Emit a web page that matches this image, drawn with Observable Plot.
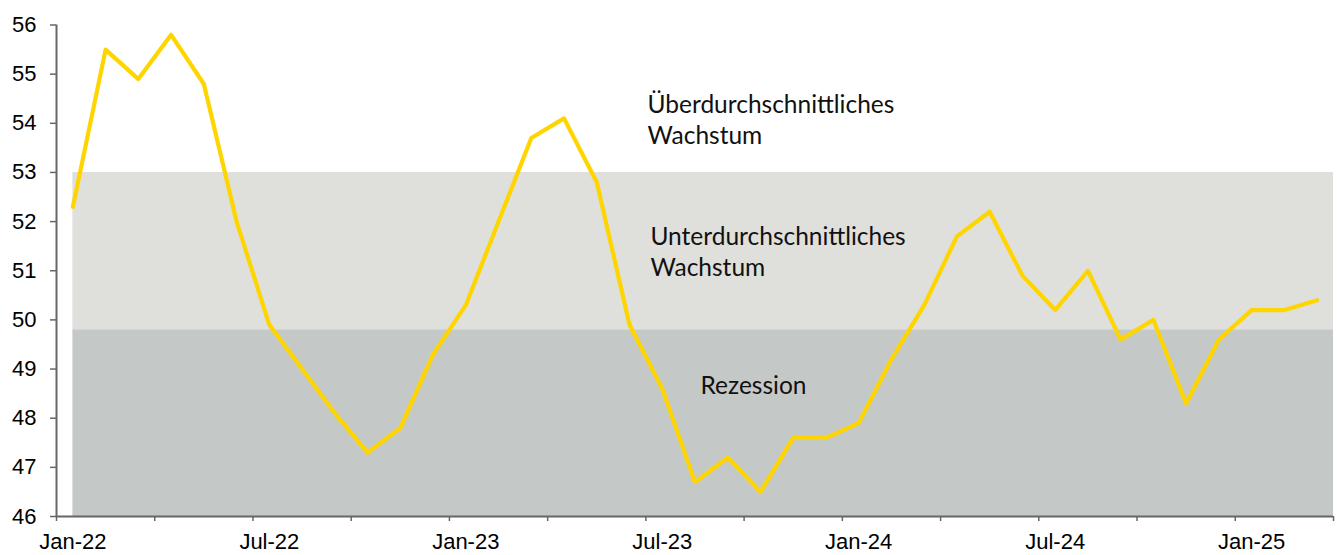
<!DOCTYPE html>
<html><head><meta charset="utf-8">
<script src="https://cdn.jsdelivr.net/npm/d3@7"></script>
<script src="https://cdn.jsdelivr.net/npm/@observablehq/plot@0.6"></script>
<style>html,body{margin:0;padding:0;background:#fff}</style>
</head><body><div id="chart"></div>
<script>
// Monthly index values, Jan-22 .. Mar-25 (plotted mid-month)
const months = ["Jan-22","Feb-22","Mar-22","Apr-22","May-22","Jun-22","Jul-22","Aug-22","Sep-22","Oct-22","Nov-22","Dec-22",
  "Jan-23","Feb-23","Mar-23","Apr-23","May-23","Jun-23","Jul-23","Aug-23","Sep-23","Oct-23","Nov-23","Dec-23",
  "Jan-24","Feb-24","Mar-24","Apr-24","May-24","Jun-24","Jul-24","Aug-24","Sep-24","Oct-24","Nov-24","Dec-24",
  "Jan-25","Feb-25","Mar-25"];
const values = [52.3,55.5,54.9,55.8,54.8,52.0,49.9,49.0,48.1,47.3,47.8,49.3,
  50.3,52.0,53.7,54.1,52.8,49.9,48.6,46.7,47.2,46.5,47.6,47.6,
  47.9,49.2,50.3,51.7,52.2,50.9,50.2,51.0,49.6,50.0,48.3,49.6,
  50.2,50.2,50.4];
const tickLabels = ["Jan-22","Jul-22","Jan-23","Jul-23","Jan-24","Jul-24","Jan-25"];
const yTicks = [46,47,48,49,50,51,52,53,54,55,56];
// Zones (lower/upper bounds)
const bandNames = ["Rezession","Unterdurchschnittliches Wachstum"];
const bandLow = [46, 49.8];
const bandHigh = [49.8, 53];
// Zone labels: text, month position, value of last-line baseline
const noteTexts = ["Überdurchschnittliches\nWachstum","Unterdurchschnittliches\nWachstum","Rezession"];
const noteMonth = [18.05, 18.14, 19.67];
const noteValue = [53.58, 50.89, 48.5];

const nMonths = months.length; // 39
const data = values.map((v, i) => ({month: months[i], x: i + 0.5, v}));
const bands = bandNames.map((n, i) => ({name: n, lo: bandLow[i], hi: bandHigh[i]}));
const notes = noteTexts.map((t, i) => ({t, m: noteMonth[i], v: noteValue[i]}));
const bandFill = {"Rezession": "#C4C9C7", "Unterdurchschnittliches Wachstum": "#DFE0DC"};
// label positions: centre of the labelled month
const labelPos = tickLabels.map((_, k) => k * 6 + 0.5);

const chart = Plot.plot({
  width: 1337, height: 555,
  marginLeft: 56, marginRight: 4, marginTop: 24.5, marginBottom: 39,
  x: {domain: [0, nMonths], label: null},
  y: {domain: [46, 56], label: null},
  style: {fontFamily: "'Liberation Sans', Arial, sans-serif", fontSize: "22px", color: "#000", background: "#fff"},
  marks: [
    Plot.rect(bands, {x1: () => data[0].x, x2: () => nMonths, y1: "lo", y2: "hi", fill: d => bandFill[d.name]}),
    Plot.axisY({ticks: yTicks, tickSize: 6, tickPadding: 14, stroke: "#666", strokeWidth: 1.5, tickFormat: d => String(d)}),
    Plot.axisX({ticks: d3.range(0, nMonths + 1, 3), tickSize: 5, stroke: "#666", strokeWidth: 1.5, tickFormat: () => ""}),
    Plot.axisX({ticks: labelPos, tickSize: 0, tickPadding: 17, tickFormat: (d, k) => tickLabels[Math.round((d - 0.5) / 6)]}),
    Plot.ruleX([0], {stroke: "#666", strokeWidth: 2}),
    Plot.ruleY([46], {stroke: "#666", strokeWidth: 2}),
    Plot.line(data, {x: "x", y: "v", stroke: "#FFD500", strokeWidth: 4.2, strokeLinejoin: "round", strokeLinecap: "round"}),
    Plot.text(notes, {x: "m", y: "v", text: "t", textAnchor: "start", lineAnchor: "bottom", lineHeight: 1.28,
      fontFamily: "Lato, 'Open Sans', sans-serif", fontSize: 24.5, fill: "#111"})
  ]
});
document.getElementById("chart").appendChild(chart);
</script>
</body></html>
